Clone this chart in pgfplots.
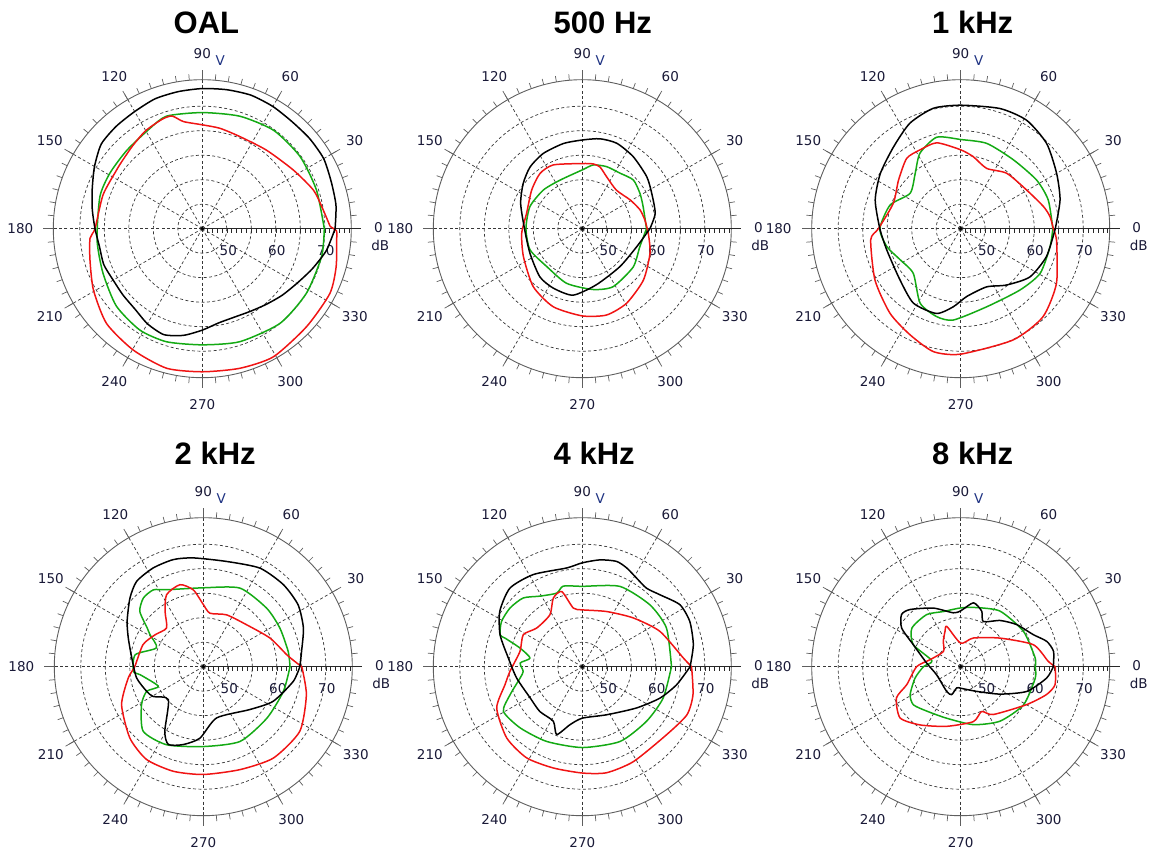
\documentclass[border=0pt]{standalone}
\usepackage{fontspec}
\setmainfont{DejaVu Sans}
\newfontfamily\titlefont{Liberation Sans}
\usepackage{pgfplots}
\usepackage{pgfplotstable}
\pgfplotsset{compat=1.18}

\definecolor{lblc}{RGB}{25,25,55}
\definecolor{vcol}{RGB}{30,50,130}
\definecolor{gridc}{RGB}{55,55,55}
\definecolor{ringc}{RGB}{95,95,95}
\definecolor{axc}{RGB}{40,40,40}
\definecolor{curvered}{RGB}{240,20,20}
\definecolor{curvegreen}{RGB}{20,170,20}

% ---------- measured levels: angle (deg) and level (dB) ----------
% OAL
\pgfplotstableread{
ang db
0 72.1
10 72.7
20 73.0
30 73.6
40 73.6
50 73.5
60 73.8
70 74.0
80 73.8
90 73.6
100 73.4
110 73.2
120 72.6
130 72.3
140 71.9
150 70.4
160 68.9
170 67.8
180 66.9
190 66.3
200 66.4
210 66.0
220 66.1
230 66.4
240 67.4
250 68.0
260 67.1
270 65.7
280 64.5
290 64.2
300 64.5
310 65.2
320 66.2
330 67.3
340 68.9
350 70.7
360 72.1
}\oalB
\pgfplotstableread{
ang db
1 71.1
10.4 69.8
19.2 69.0
32.8 67.1
50.7 65.7
67.7 65.3
80 65.8
90 66.2
100 67.2
105 68.8
110 68.8
120 68.1
130 67.1
140 66.4
145.6 66.2
161.2 66.4
180 66.9
184.9 68.0
195.6 68.8
209.4 70.5
224.7 72.5
240.4 73.5
255.7 74.4
270 74.2
285 74.5
299 74.9
316.8 74.2
333.1 74.2
344.1 73.4
356 72.5
359 72.4
361 71.1
}\oalR
\pgfplotstableread{
ang db
0 69.9
18.7 69.6
36.4 69.8
54 69.8
71.5 69.2
90 68.7
107.5 69.1
117.5 68.1
134 67.2
149 67.0
162.6 66.9
186 66.6
204 67.2
222 68.6
238.4 69.3
252.5 69.2
270 68.7
288.4 69.3
309.4 70.0
328.2 70.0
347 70.0
360 69.9
}\oalG
% 500 Hz
\pgfplotstableread{
ang db
0 58.8
11.9 60.2
27 60.9
38.9 61.9
54.7 63.0
68 63.8
78.9 63.7
90 63.1
102.6 62.8
117.4 62.3
130.2 61.5
142.5 60.2
157.7 58.6
180 56.8
205 56.8
228.6 58.1
244 58.5
262 58.7
284 56.8
314.7 55.9
341.7 56.7
360 58.8
}\fiveB
\pgfplotstableread{
ang db
7.9 57.9
18 57.4
31 56.4
48.4 55.5
64.9 56.7
74 58.1
80.3 58.4
90 58.3
114.5 59.3
127.4 59.2
142.6 58.0
164.6 56.8
184.4 57.4
205.4 58.3
229.8 60.5
249.6 62.0
270 62.8
285.7 63.3
300.7 62.7
319.9 61.3
340 59.7
356 58.5
367.9 57.9
}\fiveR
\pgfplotstableread{
ang db
0 58.1
19.8 58.2
31.5 58.8
43.7 59.4
55.8 58.7
68.6 58.6
80.2 58.2
90 57.0
114.6 55.9
135.2 56.2
157.2 56.6
180 56.5
202 56.5
226.8 55.6
254 56.6
280 57.6
298 58.4
323 58.0
342.7 57.3
360 58.1
}\fiveG
% 1 kHz
\pgfplotstableread{
ang db
0 64.3
16.1 66.1
30 67.6
44.8 69.7
58.7 70.9
71.9 70.8
90 70.2
102.8 70.2
115.7 68.9
129.4 66.6
145.5 64.9
161.5 63.4
180 61.5
196 60.7
220 61.2
237.6 63.0
254 63.0
264.6 61.0
275 58.9
294 58.0
309 59.8
325 62.2
342 63.4
360 64.3
}\oneB
\pgfplotstableread{
ang db
0 63.9
7.6 63.4
14.9 62.5
30.4 60.6
50.3 59.7
66.7 58.4
80 59.9
90 61.1
105.6 63.2
117.3 63.1
127.5 63.1
142 61.1
159.4 59.7
180 61.8
187 63.5
211 65.4
230.1 67.5
244.5 69.0
257.5 70.7
270 70.6
295.3 70.1
313 69.6
330.3 67.5
353 64.7
360 63.9
}\oneR
\pgfplotstableread{
ang db
0 63.8
18.1 63.8
32.6 63.4
52.5 62.7
73 63.2
90 63.2
104.7 64.3
118.4 62.5
129.5 59.6
145 57.6
161.5 60.2
180 61.5
193.7 60.5
207 58.9
223.3 58.3
241.4 62.3
254.7 63.6
265.4 63.7
288.4 61.8
314 62.4
330.6 63.6
348.6 63.6
360 63.8
}\oneG
% 2 kHz
\pgfplotstableread{
ang db
0 64.7
8.9 65.3
21.1 66.9
33.1 68.1
45.7 68.4
60.1 68.2
77.5 67.0
95.3 67.3
105.7 67.7
116.9 67.6
128 67.1
136.9 65.5
149.2 63.1
159 61.4
173.1 59.7
189.6 58.8
203.5 57.6
210.7 56.9
223.3 54.8
239.3 60.4
245.8 62.4
255.6 61.4
267.3 59.6
284.6 55.8
317.3 57.9
333.6 60.9
350.7 63.6
360 64.7
}\twoB
\pgfplotstableread{
ang db
0 65.1
3.3 63.7
8.2 62.2
23.3 59.8
44.1 57.3
65.8 56.6
82.9 56.0
90 57.7
97.4 60.8
105.9 62.4
117 61.5
124.7 58.7
133.5 55.9
146.5 56.8
159.9 58.1
180 59.0
188.6 60.5
205 63.4
224.2 65.9
238.6 67.2
254 67.2
270 67.0
289.6 67.3
307.5 68.5
326.2 68.7
344.8 66.8
360 65.1
}\twoR
\pgfplotstableread{
ang db
0 62.7
10.2 62.6
26.8 62.5
42.8 62.6
65 62.7
90 61.1
115.5 62.4
123 63.7
131.1 63.6
138.9 62.2
145.4 58.9
149 57.7
158 55.3
170 59.1
183.8 59.3
187.2 58.0
203.6 55.0
203.5 57.6
211.6 59.8
227 63.0
244.8 62.6
270 61.3
296.2 62.0
321 61.7
342.9 62.1
360 62.7
}\twoG
% 4 kHz
\pgfplotstableread{
ang db
0 67.0
11.2 68.1
22.8 68.8
32.4 68.6
42.8 66.6
50.7 65.7
58.5 66.2
65.8 67.1
72 67.6
80.6 67.1
90 66.2
99 65.4
118 66.3
132.6 66.8
146 65.3
158.8 63.0
173.3 60.2
189.8 58.6
211 57.4
226.5 57.6
242 57.6
249.3 59.8
258 57.1
270 55.5
296.9 56.0
322.7 58.9
338 62.1
349.2 64.6
360 67.0
}\fourB
\pgfplotstableread{
ang db
0 67.3
4.9 65.7
24.5 62.4
43.7 59.4
66.3 57.3
90 56.6
98.7 57.1
105.3 60.9
112.9 60.2
121.9 57.5
139.7 57.2
151.5 58.7
166.2 58.1
183.7 59.8
193.1 61.2
205.8 64.4
223.3 66.2
238.6 66.8
254 66.5
270 66.7
282.9 67.2
298.3 67.0
321.1 67.1
335.3 68.5
345.8 68.3
360 67.3
}\fourR
\pgfplotstableread{
ang db
0 63.2
24.6 63.9
42.5 63.7
64.9 63.1
90 61.4
103.3 61.9
109.2 60.9
121 61.8
130.7 63.5
140.9 64.0
150.7 63.9
158.8 63.0
159.7 61.8
163.3 58.3
170.6 55.8
176.6 57.7
184.5 57.1
190.3 57.9
201.2 60.8
209.5 63.5
224.5 62.8
244.5 61.9
270 61.5
296.8 62.1
319.6 62.2
338.9 62.7
360 63.2
}\fourG
% 8 kHz
\pgfplotstableread{
ang db
0 63.9
9.4 64.2
16.4 63.3
23.8 61.2
36.9 59.3
49.5 57.4
63.4 55.3
69.2 57.1
78.7 58.3
90 56.4
97.8 56.1
115 58.2
131.6 60.6
138.6 61.1
146.8 59.4
155 55.7
173.8 52.0
198.4 50.2
240.4 50.8
252 51.0
259.4 49.4
270 49.4
302.9 51.0
325.2 54.8
339.5 59.4
352.5 62.7
360 63.9
}\eightB
\pgfplotstableread{
ang db
0 64.3
3.5 62.9
16.8 60.5
36.1 54.9
66.2 51.4
90 49.8
109 53.7
113.9 52.9
124.4 51.3
138.5 49.7
167 51.4
180 54.0
198.4 56.6
206 59.6
220.2 61.2
235 59.5
256.8 57.5
283 56.5
295 55.1
304.2 56.8
330 60.5
342 63.4
349.2 64.6
360 64.3
}\eightR
\pgfplotstableread{
ang db
0 60.2
6.7 60.3
29.4 59.7
54.6 58.9
74.9 57.5
90 57.0
107.4 56.8
123.2 57.7
141.7 57.7
155 55.7
168.3 51.0
180 52.6
194 54.6
209 56.8
218.8 57.4
232.7 56.4
254.7 55.9
282.3 57.1
305.7 58.7
328.8 60.0
351.3 60.4
360 60.2
}\eightG

% ---------- styles ----------
\pgfplotsset{
  polarpanel/.style={hide axis, x=4.9pt, y=4.9pt,
    xmin=-36, xmax=36, ymin=-36, ymax=36, clip=false, anchor=origin},
}
% level trace: radius measured from the 45 dB centre
\newcommand{\trace}[2]{%
  \addplot[#1, line width=1.5pt, line join=round, mark=none,
           smooth, tension=0.4]
    table[x expr={(\thisrow{db}-45)*cos(\thisrow{ang})},
          y expr={(\thisrow{db}-45)*sin(\thisrow{ang})}] {#2};}

\tikzset{
  lbl/.style={text=lblc, inner sep=0pt, font=\fontsize{13.5}{15}\selectfont},
  gdash/.style={gridc, line width=0.7pt, dash pattern=on 3pt off 2.4pt},
}

% polar frame: 5 dB rings (50..70 dB), outer ring, spokes, angle labels
\newcommand{\polgrid}[2]{%
\begin{scope}[shift={(#1,#2)}]
  \foreach \r in {24.5,49,73.5,98,122.5}
    \draw[gdash] (0,0) circle[radius=\r pt];
  \foreach \a in {30,60,90,120,150,180,210,240,270,300,330}
    \draw[gdash] (0,0) -- (\a:149pt);
  \draw[ringc, line width=0.9pt] (0,0) circle[radius=149pt];
  \foreach \a in {0,5,...,355}
    \draw[ringc, line width=0.7pt] (\a:149pt) -- (\a:155pt);
  \foreach \a in {30,60,...,330}
    \draw[ringc, line width=0.7pt] (\a:149pt) -- (\a:159pt);
  \draw[axc, line width=0.8pt] (0,0) -- (159pt,0);
  \foreach \i in {1,...,30}
    \draw[axc, line width=0.6pt] (\i*4.9pt,0) -- (\i*4.9pt,-4pt);
  \fill[black] (0,0) circle[radius=1.8pt];
  \foreach \a in {30,60,120,150,210,240,270,300,330}
    \node[lbl] at (\a:176pt) {\a};
  \node[lbl] at (0,175pt) {90};
  \node[lbl, text=vcol] at (18pt,168pt) {V};
  \node[lbl] at (-182pt,0) {180};
  \node[lbl] at (176pt,1pt) {0};
  \node[lbl] at (178pt,-17pt) {dB};
  \node[lbl] at (26pt,-22pt) {50};
  \node[lbl] at (74.5pt,-22pt) {60};
  \node[lbl] at (123.5pt,-22pt) {70};
\end{scope}}

\newcommand{\paneltitle}[3]{%
  \node[anchor=base west, inner sep=0pt,
        font=\titlefont\bfseries\fontsize{31}{36}\selectfont] at (#1,#2) {#3};}

\begin{document}
\begin{tikzpicture}[x=1pt, y=1pt]
\useasboundingbox (0,0) rectangle (1149,849);

% ---- top row ----
\polgrid{202.3}{620.3}
\paneltitle{173.5}{815.7}{OAL}
\begin{axis}[polarpanel, at={(202.3pt,620.3pt)}]
  \trace{curvegreen}{\oalG}
  \trace{curvered}{\oalR}
  \trace{black}{\oalB}
\end{axis}

\polgrid{582.3}{620.3}
\paneltitle{553.5}{815.7}{500 Hz}
\begin{axis}[polarpanel, at={(582.3pt,620.3pt)}]
  \trace{curvegreen}{\fiveG}
  \trace{curvered}{\fiveR}
  \trace{black}{\fiveB}
\end{axis}

\polgrid{960.7}{620.3}
\paneltitle{932}{815.7}{1 kHz}
\begin{axis}[polarpanel, at={(960.7pt,620.3pt)}]
  \trace{curvegreen}{\oneG}
  \trace{curvered}{\oneR}
  \trace{black}{\oneB}
\end{axis}

% ---- bottom row ----
\polgrid{203.3}{182.3}
\paneltitle{174.5}{384}{2 kHz}
\begin{axis}[polarpanel, at={(203.3pt,182.3pt)}]
  \trace{curvegreen}{\twoG}
  \trace{curvered}{\twoR}
  \trace{black}{\twoB}
\end{axis}

\polgrid{582.3}{182.3}
\paneltitle{553.5}{384}{4 kHz}
\begin{axis}[polarpanel, at={(582.3pt,182.3pt)}]
  \trace{curvegreen}{\fourG}
  \trace{curvered}{\fourR}
  \trace{black}{\fourB}
\end{axis}

\polgrid{960.7}{182.3}
\paneltitle{932}{384}{8 kHz}
\begin{axis}[polarpanel, at={(960.7pt,182.3pt)}]
  \trace{curvegreen}{\eightG}
  \trace{curvered}{\eightR}
  \trace{black}{\eightB}
\end{axis}
\end{tikzpicture}
\end{document}
